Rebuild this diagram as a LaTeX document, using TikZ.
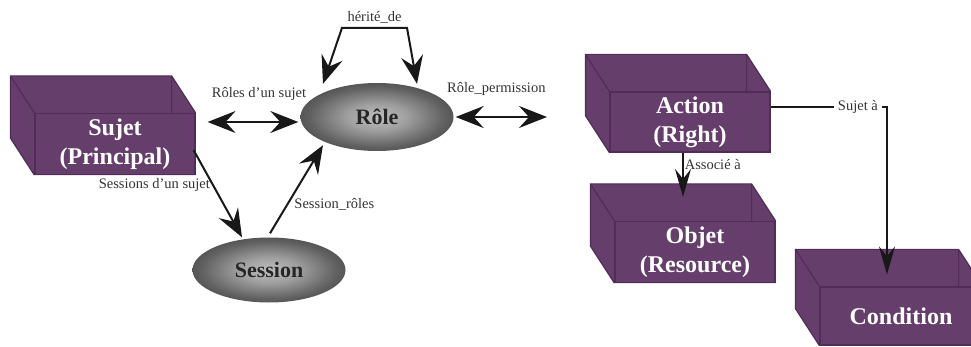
\documentclass[tikz,border=0pt]{standalone}
\usepackage{fontspec}
\setmainfont{Liberation Serif}
\usepackage{xcolor}
\usetikzlibrary{positioning, arrows.meta, shapes.geometric, backgrounds, calc}
\definecolor{cubefill}{RGB}{102,62,108}
\definecolor{cubeline}{RGB}{82,44,88}
\definecolor{wire}{RGB}{24,24,24}
\pgfdeclareradialshading{ovalshade}{\pgfpoint{0bp}{0bp}}{%
  color(0bp)=(black!25); color(10bp)=(black!38); color(22bp)=(black!62);
  color(32bp)=(black!76); color(50bp)=(black!82)}

\begin{document}
\begin{tikzpicture}[
  x=1pt, y=-1pt,
  font=\fontsize{14.5}{16}\selectfont,
  cube/.style={draw=cubeline, fill=cubefill, line width=1.2pt, minimum width=160pt,
               minimum height=61pt, align=center, text=white, inner sep=0pt,
               font=\fontsize{24}{29}\selectfont\bfseries},
  oval/.style={ellipse, shading=ovalshade, minimum width=153pt, minimum height=68pt,
               inner sep=0pt, text=black!85, font=\fontsize{22}{26}\selectfont\bfseries},
  rel/.style={-{Stealth[length=28pt, width=22pt, inset=10pt]}, line width=2pt, draw=wire},
  birel/.style={{Stealth[length=28pt, width=22pt, inset=10pt]}-{Stealth[length=28pt, width=22pt, inset=10pt]},
                line width=2pt, draw=wire},
  link/.style={-{Stealth[length=28pt, width=16pt, inset=10pt]}, line width=1.6pt, draw=wire},
  lab/.style={text=black!80, inner sep=1pt},
]
\clip (0,0) rectangle (971,347);
\node[cube] (sujet) at (115,144) {Sujet\\(Principal)};
\node[oval] (role) at (377,117) {Rôle};
\node[oval, minimum height=65pt] (session) at (269,270) {Session};
\node[cube, minimum height=60pt] (action) at (690,122) {Action\\(Right)};
\node[cube] (objet) at (695,252) {Objet\\(Resource)};
\node[cube, minimum width=162pt, minimum height=58pt] (cond) at (901,316) {Condition};

\begin{scope}[on background layer]
\foreach \c in {sujet, action, objet, cond} {
  \path ($(\c.north west)+(-24,-37)$) coordinate (\c-a)
        ($(\c.north east)+(-24,-37)$) coordinate (\c-b)
        ($(\c.south east)+(-24,-37)$) coordinate (\c-c)
        ($(\c.south west)+(-24,-37)$) coordinate (\c-d);
  \fill[cubefill] (\c-a) -- (\c-b) -- (\c.north east) -- (\c.south east)
    -- (\c.south west) -- (\c-d) -- cycle;
  \draw[cubeline, line width=1.2pt] (\c-d) -- (\c-a) -- (\c-b) -- (\c-c)
    (\c-a) -- (\c.north west) (\c-b) -- (\c.north east) (\c-d) -- (\c.south west);
}
\end{scope}

\coordinate (permend) at (547,117);
\coordinate (sujstart) at ($(action.east)+(0,-15)$);
\coordinate (condtip) at ($(cond.north)+(-14,-12)$);

\draw[birel] ($(sujet.east)+(12,-22)$) -- ($(role.west)+(-2,5)$)
  node[lab, midway, above=19pt, xshift=6pt] (lroles) {Rôles d’un sujet};
\draw[birel] ($(role.east)+(2,0)$) -- (permend)
  node[lab, midway, above=19pt, xshift=-5pt] (lperm) {Rôle\_permission};
\draw[birel] ($(role.north)+(-54,1)$) -- ($(role.north)+(-35,-55)$)
  -- node[lab, above=2pt] (lherit) {hérité\_de} ($(role.north)+(30,-55)$)
  -- ($(role.north)+(40,1)$);
\draw[rel] ($(sujet.south east)+(-2,-25)$) -- ($(session.north)+(-27,0)$)
  node[lab, pos=0.4, left=1pt] (lsess) {Sessions d’un sujet};
\draw[rel] ($(session.north)+(1,-4)$) -- ($(role.south)+(-54,-6)$)
  node[lab, pos=0.33, right=5pt] (lsr) {Session\_rôles};
\draw[link] ($(action.south)+(-7,0)$) -- ($(objet.north)+(-12,-24)$)
  node[lab, pos=0.28, right=0pt] (lasso) {Associé à};
\draw[link] (sujstart) -- node[lab, pos=0.75, fill=white, inner sep=4pt] (lsuj) {Sujet à}
  (sujstart -| condtip) -- (condtip);
\end{tikzpicture}
\end{document}
